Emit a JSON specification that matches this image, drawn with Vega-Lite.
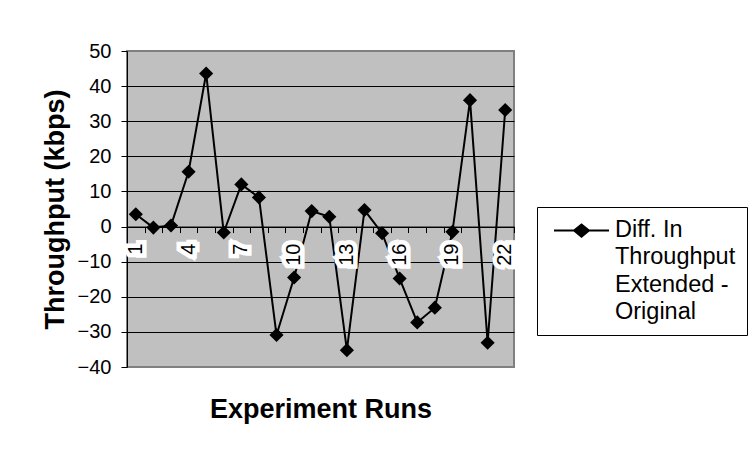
{
  "$schema": "https://vega.github.io/schema/vega-lite/v6.json",
  "width": 387,
  "height": 316,
  "autosize": "none",
  "padding": {"left": 127, "top": 51, "right": 239, "bottom": 84},
  "background": "white",
  "config": {
    "font": "Liberation Sans",
    "view": {"fill": "#C0C0C0", "stroke": "#808080", "strokeWidth": 2},
    "axis": {"labelColor": "black", "titleColor": "black", "labelFont": "Liberation Sans", "titleFont": "Liberation Sans"}
  },
  "data": {
    "values": [
      {"run": 1, "diff": 3.5, "series": "Diff. In\nThroughput\nExtended -\nOriginal"},
      {"run": 2, "diff": -0.3, "series": "Diff. In\nThroughput\nExtended -\nOriginal"},
      {"run": 3, "diff": 0.3, "series": "Diff. In\nThroughput\nExtended -\nOriginal"},
      {"run": 4, "diff": 15.6, "series": "Diff. In\nThroughput\nExtended -\nOriginal"},
      {"run": 5, "diff": 43.6, "series": "Diff. In\nThroughput\nExtended -\nOriginal"},
      {"run": 6, "diff": -1.7, "series": "Diff. In\nThroughput\nExtended -\nOriginal"},
      {"run": 7, "diff": 12.0, "series": "Diff. In\nThroughput\nExtended -\nOriginal"},
      {"run": 8, "diff": 8.3, "series": "Diff. In\nThroughput\nExtended -\nOriginal"},
      {"run": 9, "diff": -30.9, "series": "Diff. In\nThroughput\nExtended -\nOriginal"},
      {"run": 10, "diff": -14.5, "series": "Diff. In\nThroughput\nExtended -\nOriginal"},
      {"run": 11, "diff": 4.4, "series": "Diff. In\nThroughput\nExtended -\nOriginal"},
      {"run": 12, "diff": 2.8, "series": "Diff. In\nThroughput\nExtended -\nOriginal"},
      {"run": 13, "diff": -35.2, "series": "Diff. In\nThroughput\nExtended -\nOriginal"},
      {"run": 14, "diff": 4.7, "series": "Diff. In\nThroughput\nExtended -\nOriginal"},
      {"run": 15, "diff": -1.9, "series": "Diff. In\nThroughput\nExtended -\nOriginal"},
      {"run": 16, "diff": -14.8, "series": "Diff. In\nThroughput\nExtended -\nOriginal"},
      {"run": 17, "diff": -27.3, "series": "Diff. In\nThroughput\nExtended -\nOriginal"},
      {"run": 18, "diff": -23.1, "series": "Diff. In\nThroughput\nExtended -\nOriginal"},
      {"run": 19, "diff": -1.5, "series": "Diff. In\nThroughput\nExtended -\nOriginal"},
      {"run": 20, "diff": 36.0, "series": "Diff. In\nThroughput\nExtended -\nOriginal"},
      {"run": 21, "diff": -33.1, "series": "Diff. In\nThroughput\nExtended -\nOriginal"},
      {"run": 22, "diff": 33.2, "series": "Diff. In\nThroughput\nExtended -\nOriginal"}
    ]
  },
  "encoding": {
    "x": {
      "field": "run",
      "type": "quantitative",
      "scale": {"domain": [0.5, 22.5], "nice": false, "zero": false},
      "axis": {
        "values": [0.5, 1.5, 2.5, 3.5, 4.5, 5.5, 6.5, 7.5, 8.5, 9.5, 10.5, 11.5, 12.5, 13.5, 14.5, 15.5, 16.5, 17.5, 18.5, 19.5, 20.5, 21.5, 22.5],
        "labels": false,
        "grid": false,
        "offset": -140.44,
        "domainColor": "black",
        "tickColor": "black",
        "tickSize": 6,
        "title": "Experiment Runs",
        "titleFontSize": 27,
        "titleFontWeight": "bold",
        "titleY": 190.5,
        "titleBaseline": "alphabetic"
      }
    },
    "y": {
      "field": "diff",
      "type": "quantitative",
      "scale": {"domain": [-40, 50], "nice": false, "zero": false},
      "axis": {
        "values": [-40, -30, -20, -10, 0, 10, 20, 30, 40, 50],
        "grid": true,
        "gridColor": {"condition": {"test": "datum.value == 50 || datum.value == -40", "value": "#808080"}, "value": "black"},
        "gridOpacity": 1,
        "domainColor": "black",
        "tickColor": "black",
        "tickSize": 6,
        "labelFontSize": 20,
        "labelPadding": 10,
        "title": "Throughput (kbps)",
        "titleFontSize": 27,
        "titleFontWeight": "bold",
        "titleX": -64,
        "titleBaseline": "alphabetic"
      }
    }
  },
  "layer": [
    {
      "mark": {
        "type": "line",
        "strokeWidth": 2,
        "point": {"shape": "diamond", "size": 200, "filled": true, "color": "black", "strokeWidth": 1}
      },
      "encoding": {
        "color": {
          "field": "series",
          "type": "nominal",
          "scale": {"range": ["black"]},
          "legend": {
            "orient": "none",
            "legendX": 410,
            "legendY": 156,
            "title": null,
            "strokeColor": "black",
            "padding": 11,
            "symbolOffset": 5,
            "symbolType": "M-1,-0.58H1M-0.27,-0.58L0,-0.8L0.27,-0.58L0,-0.36Z",
            "symbolSize": 3025,
            "symbolStrokeWidth": 2,
            "symbolStrokeColor": "black",
            "symbolFillColor": "black",
            "labelFont": "Liberation Sans",
            "labelFontSize": 23.5,
            "labelColor": "black",
            "labelOffset": 5,
            "labelLimit": 400,
            "labelExpr": "split(datum.label, '\\n')",
            "encode": {
              "labels": {"update": {"lineHeight": {"value": 27.5}, "dy": {"value": -17}}},
              "symbols": {"update": {"fill": {"value": "black"}, "stroke": {"value": "black"}, "opacity": {"value": 1}}}
            }
          }
        }
      }
    },
    {
      "transform": [{"filter": "datum.run % 3 == 1"}],
      "mark": {
        "type": "text",
        "angle": 270,
        "align": "right",
        "baseline": "middle",
        "yOffset": 17,
        "fontSize": 20,
        "font": "Liberation Sans",
        "fill": "white",
        "stroke": "white",
        "strokeWidth": 9,
        "strokeJoin": "miter"
      },
      "encoding": {
        "y": {"datum": 0},
        "text": {"field": "run", "type": "quantitative"}
      }
    },
    {
      "transform": [{"filter": "datum.run % 3 == 1"}],
      "mark": {
        "type": "text",
        "angle": 270,
        "align": "right",
        "baseline": "middle",
        "yOffset": 17,
        "fontSize": 20,
        "font": "Liberation Sans",
        "fill": "black"
      },
      "encoding": {
        "y": {"datum": 0},
        "text": {"field": "run", "type": "quantitative"}
      }
    }
  ]
}
